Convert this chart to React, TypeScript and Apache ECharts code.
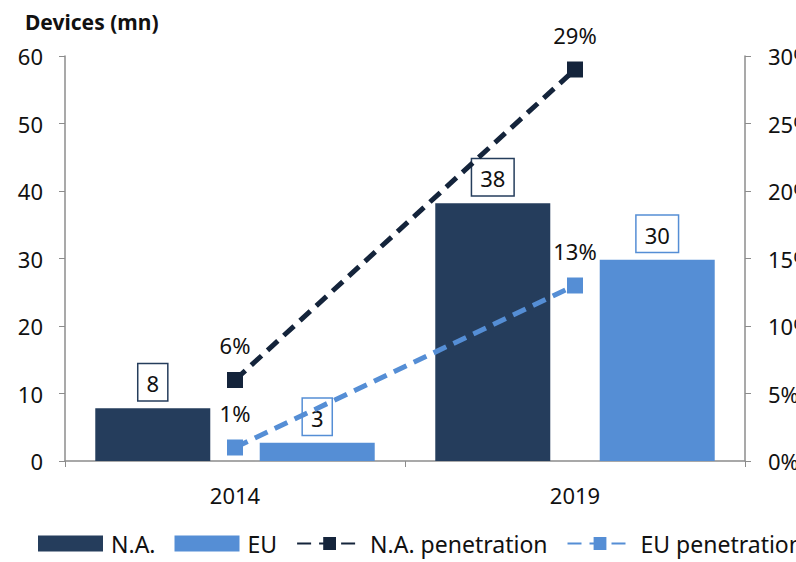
import React, { useEffect, useRef } from "react";
import * as echarts from "echarts";

const categories = ["2014", "2019"];
const naDevices = [7.8, 38.2];
const euDevices = [2.7, 29.8];
const naPenetration = [6, 29];
const euPenetration = [1, 13];
const leftTicks = [0, 10, 20, 30, 40, 50, 60];
const rightTicks = ["0%", "5%", "10%", "15%", "20%", "25%", "30%"];

const NA_COLOR = "#253d5c";
const EU_COLOR = "#558ed5";
const NA_LINE = "#14243b";
const FONT = "Noto Sans";
const FS = 22;

export default function App() {
  const ref = useRef<HTMLDivElement>(null);
  useEffect(() => {
    if (!ref.current) return;
    const chart = echarts.init(ref.current, undefined, { renderer: "svg" });
    const barLabel = (border: string, vals: number[]) => ({
      show: true,
      position: "top",
      distance: 8,
      formatter: (p: any) => String(Math.round(vals[p.dataIndex])),
      color: "#111",
      fontSize: FS,
      fontFamily: FONT,
      backgroundColor: "#fff",
      borderColor: border,
      borderWidth: 1.5,
      padding: [8, 8, 6, 8],
    });
    const lineLabel = {
      show: true,
      position: "top",
      distance: 16,
      formatter: (p: any) => p.value + "%",
      color: "#111",
      fontSize: FS,
      fontFamily: FONT,
    };
    chart.setOption({
      animation: false,
      title: {
        text: "Devices (mn)",
        left: 20,
        top: 6,
        textStyle: { fontFamily: FONT, fontWeight: "bold", fontSize: 21, color: "#111" },
      },
      grid: {
        left: 65,
        right: 51,
        top: 56,
        bottom: 101,
        containLabel: false,
        outerBoundsMode: "none",
      },
      legend: {
        bottom: 2,
        left: 33,
        width: 1200,
        itemGap: 19,
        textStyle: { fontFamily: FONT, fontSize: 23, color: "#111", padding: [0, 0, 0, 3] },
        data: [
          { name: "N.A.", icon: "rect" },
          { name: "EU", icon: "rect" },
          { name: "N.A. penetration" },
          { name: "EU penetration" },
        ],
        itemWidth: 65,
        itemHeight: 16,
      },
      xAxis: {
        type: "category",
        data: categories,
        axisLine: { lineStyle: { color: "#8c8c8c", width: 1.5 } },
        axisTick: { show: true, length: 6, lineStyle: { color: "#8c8c8c" } },
        axisLabel: { fontFamily: FONT, fontSize: FS, color: "#111", margin: 23 },
      },
      yAxis: [
        {
          type: "value",
          min: leftTicks[0],
          max: leftTicks[leftTicks.length - 1],
          interval: 10,
          splitLine: { show: false },
          axisLine: { show: true, lineStyle: { color: "#8c8c8c", width: 1.5 } },
          axisTick: { show: true, length: 6, lineStyle: { color: "#8c8c8c" } },
          axisLabel: { fontFamily: FONT, fontSize: FS, color: "#111", margin: 22 },
        },
        {
          type: "value",
          min: 0,
          max: 30,
          interval: 5,
          position: "right",
          splitLine: { show: false },
          axisLine: { show: true, lineStyle: { color: "#8c8c8c", width: 1.5 } },
          axisTick: { show: true, length: 6, lineStyle: { color: "#8c8c8c" } },
          axisLabel: {
            fontFamily: FONT,
            fontSize: FS,
            color: "#111",
            margin: 23,
            formatter: (v: number) => rightTicks[Math.round(v / 5)],
          },
        },
      ],
      series: [
        {
          name: "N.A.",
          type: "bar",
          data: naDevices,
          barWidth: 115,
          barGap: "43%",
          itemStyle: { color: NA_COLOR },
          label: barLabel(NA_COLOR, naDevices),
        },
        {
          name: "EU",
          type: "bar",
          data: euDevices,
          barWidth: 115,
          itemStyle: { color: EU_COLOR },
          label: barLabel(EU_COLOR, euDevices),
        },
        {
          name: "N.A. penetration",
          type: "line",
          yAxisIndex: 1,
          data: naPenetration,
          symbol: "rect",
          symbolSize: 16,
          lineStyle: { color: NA_LINE, width: 5, type: [14, 8] },
          itemStyle: { color: NA_LINE },
          label: lineLabel,
        },
        {
          name: "EU penetration",
          type: "line",
          yAxisIndex: 1,
          data: euPenetration,
          symbol: "rect",
          symbolSize: 16,
          lineStyle: { color: EU_COLOR, width: 5, type: [14, 8] },
          itemStyle: { color: EU_COLOR },
          label: lineLabel,
        },
      ],
    });
    return () => chart.dispose();
  }, []);
  return (
    <div
      ref={ref}
      style={{ position: "fixed", left: 0, top: 0, width: 796, height: 562, background: "#fff" }}
    />
  );
}
